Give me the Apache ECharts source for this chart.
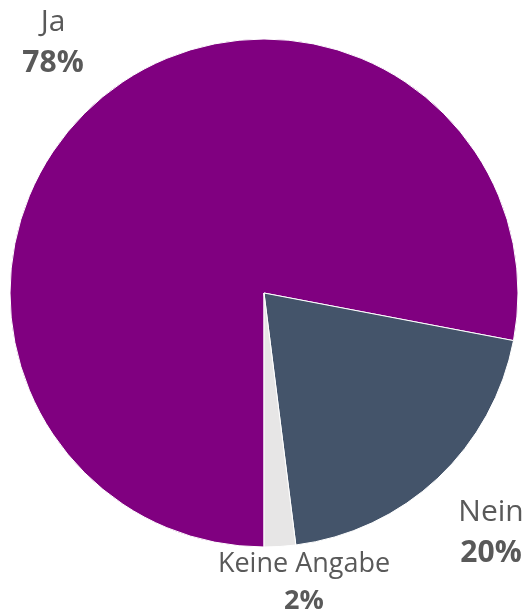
<!DOCTYPE html>
<html>
<head>
<meta charset="utf-8">
<script src="https://cdn.jsdelivr.net/npm/echarts@6/dist/echarts.min.js"></script>
<style>html,body{margin:0;padding:0;background:#fff}#c{width:530px;height:611px}</style>
</head>
<body>
<div id="c"></div>
<script>
const categories = ['Ja', 'Nein', 'Keine Angabe'];
const values = [78, 20, 2];
const colors = ['#800080', '#44546A', '#E7E6E6'];
const labelPos = [[53, 43], [491, 533], [304, 583]];
const nameSizes = [30, 30, 27];
const lineHeights = [41, 41, 37];

const chart = echarts.init(document.getElementById('c'));
chart.setOption({
  animation: false,
  series: [{
    type: 'pie',
    center: [264, 293],
    radius: 254,
    startAngle: 270,
    clockwise: true,
    data: categories.map((n, i) => ({
      name: n,
      value: values[i],
      itemStyle: { color: colors[i] },
      label: {
        rich: {
          n: { fontSize: nameSizes[i], color: '#595959', fontFamily: 'Open Sans', lineHeight: lineHeights[i], align: 'center' },
          p: { fontSize: nameSizes[i], fontWeight: 'bold', color: '#595959', fontFamily: 'Open Sans', lineHeight: lineHeights[i], align: 'center' }
        }
      }
    })),
    itemStyle: { borderColor: '#fff', borderWidth: 1 },
    label: {
      show: true,
      position: 'outside',
      overflow: 'none',
      formatter: p => '{n|' + p.name + '}\n{p|' + p.value + '%}',
      align: 'center'
    },
    labelLine: { show: false },
    labelLayout: function (params) {
      const pos = labelPos[params.dataIndex];
      return { x: pos[0], y: pos[1], align: 'center', verticalAlign: 'middle' };
    }
  }]
});
</script>
</body>
</html>
